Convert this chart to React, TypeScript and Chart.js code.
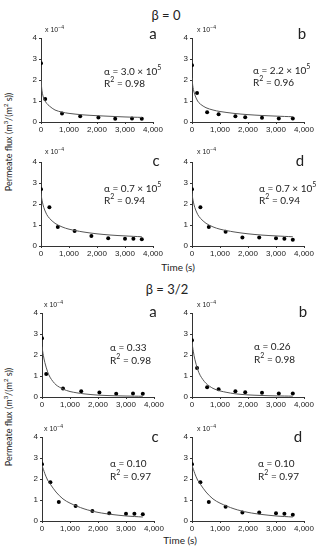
import React, { useEffect, useRef } from "react";
import { Chart, registerables } from "chart.js";
Chart.register(...registerables);

// ---- data (flux in units of 1e-4 m3/(m2 s), time in s) ----
const xTicks = [0, 1000, 2000, 3000, 4000];
const yTicks = [0, 1, 2, 3, 4];

const timeA = [0, 150, 750, 1400, 2050, 2650, 3250, 3600];
const fluxA = [2.8, 1.1, 0.4, 0.27, 0.22, 0.15, 0.17, 0.15];
const timeB = [0, 180, 540, 950, 1550, 1900, 2500, 3100, 3600];
const fluxB = [2.7, 1.38, 0.47, 0.37, 0.27, 0.23, 0.2, 0.17, 0.17];
const timeC = [0, 300, 600, 1200, 1800, 2400, 3000, 3300, 3600];
const fluxC = [2.7, 1.85, 0.9, 0.72, 0.48, 0.37, 0.35, 0.35, 0.32];
const timeD = [0, 300, 600, 1200, 1800, 2400, 3000, 3300, 3600];
const fluxD = [2.7, 1.85, 0.9, 0.68, 0.4, 0.4, 0.37, 0.35, 0.3];

const fitTime = [0, 25, 50, 100, 200, 300, 500, 750, 1000, 1500, 2000, 2500, 3000, 3600];
const fitB0a = [2.0, 1.6, 1.37, 1.11, 0.89, 0.76, 0.57, 0.47, 0.41, 0.34, 0.3, 0.27, 0.24, 0.22];
const fitB0b = [2.1, 1.75, 1.55, 1.3, 1.0, 0.85, 0.68, 0.57, 0.5, 0.41, 0.35, 0.31, 0.28, 0.25];
const fitB0c = [2.5, 2.27, 2.09, 1.83, 1.51, 1.32, 1.08, 0.91, 0.8, 0.67, 0.58, 0.52, 0.48, 0.44];
const fitB0d = [2.5, 2.27, 2.09, 1.83, 1.51, 1.32, 1.08, 0.91, 0.8, 0.67, 0.58, 0.52, 0.48, 0.44];
const fitB32a = [2.4, 2.17, 1.97, 1.65, 1.2, 0.91, 0.58, 0.38, 0.26, 0.15, 0.09, 0.063, 0.046, 0.035];
const fitB32b = [2.6, 2.36, 2.15, 1.8, 1.32, 1.01, 0.65, 0.41, 0.29, 0.16, 0.1, 0.072, 0.053, 0.04];
const fitB32c = [2.65, 2.55, 2.46, 2.26, 1.95, 1.75, 1.38, 1.05, 0.85, 0.58, 0.41, 0.31, 0.24, 0.19];
const fitB32d = [2.65, 2.55, 2.46, 2.26, 1.95, 1.75, 1.38, 1.05, 0.85, 0.58, 0.41, 0.31, 0.24, 0.19];

const TEXT = "#222";
const ANNOT_FONT = "Lato, 'Open Sans', sans-serif";
const TICK_FONT = "'Liberation Sans', Arial, sans-serif";

type PanelProps = {
  left: number;
  top: number;
  times: number[];
  flux: number[];
  fit: number[];
};

const PW = 112;
const PH = 84;

function Panel({ left, top, times, flux, fit }: PanelProps) {
  const ref = useRef<HTMLCanvasElement | null>(null);
  useEffect(() => {
    if (!ref.current) return;
    const zeroPad = (s: any) => {
      s.paddingLeft = 0;
      s.paddingRight = 0;
      s.paddingTop = 0;
      s.paddingBottom = 0;
    };
    const chart = new Chart(ref.current, {
      type: "scatter",
      data: {
        datasets: [
          {
            data: fitTime.map((t, i) => ({ x: t, y: fit[i] })),
            showLine: true,
            borderColor: "#555",
            borderWidth: 1,
            pointRadius: 0,
            tension: 0.3,
          },
          {
            data: times.map((t, i) => ({ x: t, y: flux[i] })),
            pointRadius: 2,
            pointBackgroundColor: "#000",
            pointBorderColor: "#000",
            pointBorderWidth: 0,
          },
        ],
      },
      options: {
        animation: false,
        responsive: false,
        devicePixelRatio: 1,
        layout: { padding: { left: 4, right: 10, top: 4, bottom: 2 } },
        plugins: { legend: { display: false }, tooltip: { enabled: false } },
        scales: {
          x: {
            type: "linear",
            min: 0,
            max: 4000,
            afterBuildTicks: (s: any) => {
              s.ticks = xTicks.map((v) => ({ value: v }));
            },
            afterFit: (s: any) => {
              s.height = 14;
              zeroPad(s);
            },
            ticks: {
              font: { size: 8, family: TICK_FONT },
              color: TEXT,
              padding: 1,
              maxRotation: 0,
              autoSkip: false,
            },
            grid: { drawOnChartArea: false, drawTicks: true, tickLength: 2, color: "#333" },
            border: { display: true, color: "#333", width: 1 },
          },
          y: {
            type: "linear",
            min: 0,
            max: 4,
            afterBuildTicks: (s: any) => {
              s.ticks = yTicks.map((v) => ({ value: v }));
            },
            afterFit: (s: any) => {
              s.width = 12;
              zeroPad(s);
            },
            ticks: {
              font: { size: 8, family: TICK_FONT },
              color: TEXT,
              padding: 2,
              autoSkip: false,
            },
            grid: { drawOnChartArea: false, drawTicks: true, tickLength: 2, color: "#333" },
            border: { display: true, color: "#333", width: 1 },
          },
        },
      },
    } as any);
    return () => chart.destroy();
  }, []);
  const w = PW + 16 + 10;
  const h = PH + 4 + 16;
  return (
    <canvas
      ref={ref}
      width={w}
      height={h}
      style={{ position: "absolute", left: left - 16, top: top - 4, width: w, height: h }}
    />
  );
}

function Txt({ x, y, size, children, center, family, rotate }: any) {
  return (
    <div
      style={{
        position: "absolute",
        left: x,
        top: y,
        transform: `translate(${center ? "-50%" : "0"}, -50%)${rotate ? " rotate(-90deg)" : ""}`,
        fontSize: size,
        fontFamily: family || ANNOT_FONT,
        color: TEXT,
        whiteSpace: "nowrap",
        lineHeight: 1,
      }}
    >
      {children}
    </div>
  );
}

const panels = [
  { left: 41, top: 38, times: timeA, flux: fluxA, fit: fitB0a, letter: "a", lx: 153, ly: 33, ax: 104, ay: 70, alpha: <>α = 3.0 × 10<sup style={{ fontSize: 7 }}>5</sup></>, r2: "0.98", ex: 45, ey: 29 },
  { left: 192, top: 38, times: timeB, flux: fluxB, fit: fitB0b, letter: "b", lx: 302, ly: 33, ax: 253, ay: 69, alpha: <>α = 2.2 × 10<sup style={{ fontSize: 7 }}>5</sup></>, r2: "0.96", ex: 197, ey: 29 },
  { left: 41, top: 162, times: timeC, flux: fluxC, fit: fitB0c, letter: "c", lx: 156, ly: 160, ax: 104, ay: 187, alpha: <>α = 0.7 × 10<sup style={{ fontSize: 7 }}>5</sup></>, r2: "0.94", ex: 45, ey: 151 },
  { left: 192, top: 162, times: timeD, flux: fluxD, fit: fitB0d, letter: "d", lx: 300, ly: 160, ax: 259, ay: 187, alpha: <>α = 0.7 × 10<sup style={{ fontSize: 7 }}>5</sup></>, r2: "0.94", ex: 197, ey: 151 },
  { left: 42, top: 313, times: timeA, flux: fluxA, fit: fitB32a, letter: "a", lx: 153, ly: 311, ax: 110, ay: 347, alpha: <>α = 0.33</>, r2: "0.98", ex: 44, ey: 304 },
  { left: 192, top: 313, times: timeB, flux: fluxB, fit: fitB32b, letter: "b", lx: 303, ly: 311, ax: 254, ay: 346, alpha: <>α = 0.26</>, r2: "0.98", ex: 197, ey: 304 },
  { left: 42, top: 437, times: timeC, flux: fluxC, fit: fitB32c, letter: "c", lx: 155, ly: 436, ax: 110, ay: 463, alpha: <>α = 0.10</>, r2: "0.97", ex: 44, ey: 428 },
  { left: 192, top: 437, times: timeD, flux: fluxD, fit: fitB32d, letter: "d", lx: 298, ly: 436, ax: 258, ay: 463, alpha: <>α = 0.10</>, r2: "0.97", ex: 197, ey: 428 },
];

export default function App() {
  return (
    <div style={{ position: "absolute", left: 0, top: 0, width: 316, height: 550, background: "#fff", overflow: "hidden" }}>
      <Txt x={166} y={15} size={13} center>β = 0</Txt>
      <Txt x={167} y={289} size={13} center>β = 3/2</Txt>
      <Txt x={8} y={142} size={9} center rotate>Permeate flux (m<sup style={{ fontSize: 6 }}>3</sup>/(m<sup style={{ fontSize: 6 }}>2</sup> s))</Txt>
      <Txt x={8} y={417} size={9} center rotate>Permeate flux (m<sup style={{ fontSize: 6 }}>3</sup>/(m<sup style={{ fontSize: 6 }}>2</sup> s))</Txt>
      <Txt x={178} y={267} size={10} center>Time (s)</Txt>
      <Txt x={180} y={540} size={10} center>Time (s)</Txt>
      {panels.map((p, i) => (
        <React.Fragment key={i}>
          <Panel left={p.left} top={p.top} times={p.times} flux={p.flux} fit={p.fit} />
          <Txt x={p.lx} y={p.ly} size={15} center>{p.letter}</Txt>
          <Txt x={p.ex} y={p.ey} size={7} family={TICK_FONT}>x 10<sup style={{ fontSize: 5 }}>−4</sup></Txt>
          <Txt x={p.ax} y={p.ay} size={10}>{p.alpha}</Txt>
          <Txt x={p.ax} y={p.ay + 12} size={10}>R<sup style={{ fontSize: 7 }}>2</sup> = {p.r2}</Txt>
        </React.Fragment>
      ))}
    </div>
  );
}
